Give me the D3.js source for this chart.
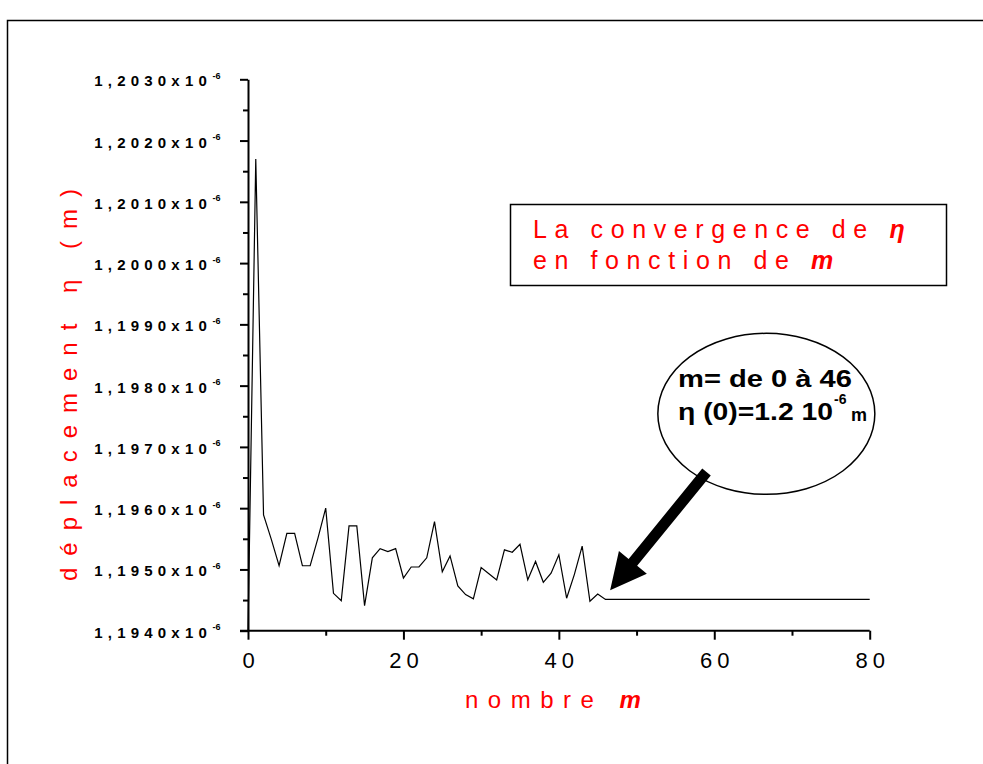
<!DOCTYPE html>
<meta charset="utf-8">
<style>

body {
  margin: 0;
  background: #fff;
  font-family: "Liberation Sans", Arial, sans-serif;
}

.line {
  stroke: #000;
  stroke-width: 1.2;
  fill: none;
}

.axis path, .axis line {
  stroke: #000;
  stroke-width: 2;
}

.ylab {
  font-weight: bold;
  font-size: 15px;
  letter-spacing: 5.2px;
  fill: #000;
}

.xlab {
  font-size: 22px;
  letter-spacing: 5px;
  fill: #000;
}

.red {
  fill: #ff0000;
}

</style>
<body>
<script src="https://d3js.org/d3.v7.min.js"></script>
<script>

// m = 0 .. 80
var mValues = d3.range(0, 81);

// deplacement eta (x 10^-6 m)
var etaValues = [
  1.19400, 1.20170, 1.19589, 1.19549, 1.19506, 1.19559, 1.19559, 1.19506, 1.19506, 1.19551,
  1.19600, 1.19461, 1.19449, 1.19571, 1.19571, 1.19441, 1.19519, 1.19534, 1.19529, 1.19534,
  1.19486, 1.19504, 1.19504, 1.19519, 1.19578, 1.19496, 1.19522, 1.19473, 1.19459, 1.19452,
  1.19503, 1.19493, 1.19483, 1.19532, 1.19528, 1.19541, 1.19483, 1.19513, 1.19479, 1.19494,
  1.19524, 1.19453, 1.19492, 1.19538, 1.19448, 1.19460, 1.19451, 1.19451, 1.19451, 1.19451,
  1.19451, 1.19451, 1.19451, 1.19451, 1.19451, 1.19451, 1.19451, 1.19451, 1.19451, 1.19451,
  1.19451, 1.19451, 1.19451, 1.19451, 1.19451, 1.19451, 1.19451, 1.19451, 1.19451, 1.19451,
  1.19451, 1.19451, 1.19451, 1.19451, 1.19451, 1.19451, 1.19451, 1.19451, 1.19451, 1.19451,
  1.19451
];

var yMajorTicks = [1.1940, 1.1950, 1.1960, 1.1970, 1.1980, 1.1990, 1.2000, 1.2010, 1.2020, 1.2030];
var yMinorTicks = [1.1945, 1.1955, 1.1965, 1.1975, 1.1985, 1.1995, 1.2005, 1.2015, 1.2025];
var xMajorTicks = [0, 20, 40, 60, 80];
var xMinorTicks = [10, 30, 50, 70];

var data = mValues.map(function(m, i) { return {m: m, eta: etaValues[i]}; });

var W = 983, H = 764;
var margin = {top: 79.3, left: 248},
    width = 621.7,
    height = 551.4;

var svg = d3.select("body").append("svg")
    .attr("width", W)
    .attr("height", H);

// outer frame (right and bottom edges fall outside the picture)
svg.append("rect")
    .attr("x", 7.5).attr("y", 20.5)
    .attr("width", 1000).attr("height", 800)
    .attr("fill", "none")
    .attr("stroke", "#000")
    .attr("stroke-width", 1.5);

var g = svg.append("g")
    .attr("transform", "translate(" + margin.left + "," + margin.top + ")");

var x = d3.scaleLinear().domain([0, 80]).range([0, width]);
var y = d3.scaleLinear().domain([1.1940, 1.2030]).range([height, 0]);

// x axis
g.append("g")
    .attr("class", "axis")
    .attr("transform", "translate(0," + height + ")")
    .call(d3.axisBottom(x).tickValues(xMinorTicks).tickSize(5).tickFormat(""))
    .call(function(s) { s.select(".domain").remove(); });

var xa = g.append("g")
    .attr("class", "axis")
    .attr("transform", "translate(0," + height + ")")
    .call(d3.axisBottom(x).tickValues(xMajorTicks).tickSizeInner(9).tickSizeOuter(0)
      .tickFormat(d3.format("d")));
xa.select(".domain").attr("d", "M-8,0H" + width);
xa.selectAll("text")
    .attr("class", "xlab")
    .attr("font-family", null).attr("font-size", null)
    .attr("y", 37).attr("dy", 0)
    .attr("dx", 2.5);

// y axis
g.append("g")
    .attr("class", "axis")
    .call(d3.axisLeft(y).tickValues(yMinorTicks).tickSize(5).tickFormat(""))
    .call(function(s) { s.select(".domain").remove(); });

var ya = g.append("g")
    .attr("class", "axis")
    .call(d3.axisLeft(y).tickValues(yMajorTicks).tickSizeInner(8).tickSizeOuter(0)
      .tickFormat(function(d) { return d3.format(".4f")(d).replace(".", ",") + "x10"; }));
ya.selectAll("text")
    .attr("class", "ylab")
    .attr("font-family", null).attr("font-size", null)
    .attr("x", -36).attr("dy", 0).attr("y", 6.5);
ya.selectAll(".tick").append("text")
    .attr("x", -27.5).attr("y", -1)
    .attr("font-size", 9).attr("font-weight", "bold")
    .attr("fill", "#000")
    .text("-6");

// data line
g.append("path")
    .datum(data)
    .attr("class", "line")
    .attr("d", d3.line()
      .x(function(d) { return x(d.m); })
      .y(function(d) { return y(d.eta); }));

// axis titles
svg.append("text")
    .attr("class", "red")
    .attr("transform", "translate(77,379) rotate(-90)")
    .attr("text-anchor", "middle")
    .attr("font-size", 24)
    .attr("letter-spacing", 12)
    .text("déplacement η (m)");

var xt = svg.append("text")
    .attr("class", "red")
    .attr("x", 465).attr("y", 708)
    .attr("font-size", 24)
    .attr("letter-spacing", 9.5);
xt.append("tspan").text("nombre ");
xt.append("tspan").attr("font-weight", "bold").attr("font-style", "italic").text("m");

// legend box
svg.append("rect")
    .attr("x", 510.5).attr("y", 204.5)
    .attr("width", 436).attr("height", 81)
    .attr("fill", "#fff")
    .attr("stroke", "#000")
    .attr("stroke-width", 1.5);

var l1 = svg.append("text").attr("class", "red")
    .attr("x", 533).attr("y", 238).attr("font-size", 25).attr("letter-spacing", 7.6);
l1.append("tspan").text("La convergence de ");
l1.append("tspan").attr("font-weight", "bold").attr("font-style", "italic").text("η");

var l2 = svg.append("text").attr("class", "red")
    .attr("x", 533).attr("y", 269).attr("font-size", 25).attr("letter-spacing", 7.6);
l2.append("tspan").text("en fonction de ");
l2.append("tspan").attr("font-weight", "bold").attr("font-style", "italic").text("m");

// ellipse annotation and arrow, placed in data coordinates
var ell = {m: 66.7, eta: 1.19754, rx: 108.5, ry: 80.5};
var arrowFrom = {m: 59.0, eta: 1.19659};
var arrowTo = {m: 46.6, eta: 1.19466};

svg.append("ellipse")
    .attr("cx", margin.left + x(ell.m))
    .attr("cy", margin.top + y(ell.eta))
    .attr("rx", ell.rx).attr("ry", ell.ry)
    .attr("fill", "#fff")
    .attr("stroke", "#000")
    .attr("stroke-width", 1.5);

var x0 = margin.left + x(arrowFrom.m), y0 = margin.top + y(arrowFrom.eta),
    x1 = margin.left + x(arrowTo.m), y1 = margin.top + y(arrowTo.eta);
var dx = x1 - x0, dy = y1 - y0, len = Math.sqrt(dx * dx + dy * dy);
var ux = dx / len, uy = dy / len, nx = -uy, ny = ux;
var headLen = 36, headW = 18, shaftW = 5.5;
var bx = x1 - ux * headLen, by = y1 - uy * headLen;
var pts = [
  [x0 + nx * shaftW, y0 + ny * shaftW],
  [bx + nx * shaftW, by + ny * shaftW],
  [bx + nx * headW, by + ny * headW],
  [x1, y1],
  [bx - nx * headW, by - ny * headW],
  [bx - nx * shaftW, by - ny * shaftW],
  [x0 - nx * shaftW, y0 - ny * shaftW]
];
svg.append("polygon")
    .attr("points", pts.map(function(p) { return p.join(","); }).join(" "))
    .attr("fill", "#000");

svg.append("text")
    .attr("x", 678).attr("y", 387)
    .attr("font-size", 24).attr("font-weight", "bold")
    .attr("textLength", 174).attr("lengthAdjust", "spacingAndGlyphs")
    .text("m= de 0 à 46");

svg.append("text")
    .attr("x", 678).attr("y", 420)
    .attr("font-size", 24).attr("font-weight", "bold")
    .attr("textLength", 155).attr("lengthAdjust", "spacingAndGlyphs")
    .text("η (0)=1.2 10");
svg.append("text")
    .attr("x", 834).attr("y", 404)
    .attr("font-size", 14).attr("font-weight", "bold")
    .text("-6");
svg.append("text")
    .attr("x", 851).attr("y", 421)
    .attr("font-size", 18).attr("font-weight", "bold")
    .text("m");

</script>
